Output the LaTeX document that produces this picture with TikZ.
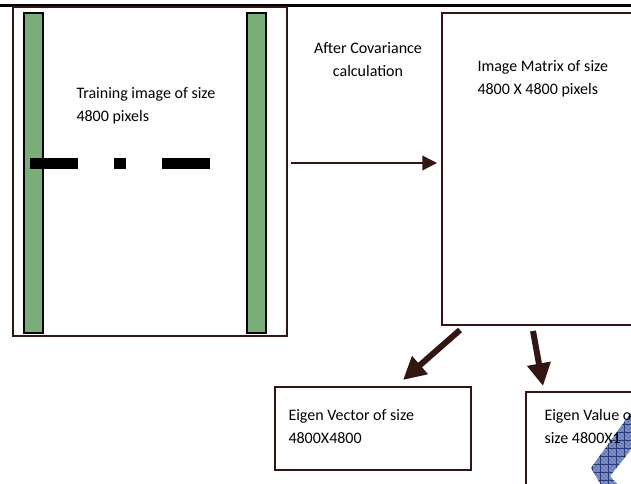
\documentclass[tikz,border=0pt]{standalone}
\usepackage{fontspec}
\setmainfont{Carlito}
\usetikzlibrary{arrows.meta,patterns}
\definecolor{boxbrown}{RGB}{50,22,20}
\definecolor{bargreen}{RGB}{121,174,120}
\definecolor{markblue}{RGB}{96,116,176}
\definecolor{markline}{RGB}{40,58,128}
\tikzset{
	box/.style={draw=boxbrown, line width=1pt},
	bar/.style={draw=black, fill=bargreen, line width=1.3pt},
	pixrow/.style={fill=black},
	txt/.style={inner sep=0pt, font=\fontsize{12}{17.2}\selectfont},
	flow/.style={draw=boxbrown, line width=1pt, -{Triangle[length=11pt,width=11pt]}},
	fatflow/.style={draw=boxbrown, line width=4.5pt, -{Triangle[length=17pt,width=17pt]}}}
\tikzset{every picture/.style={line width=0.75pt}}

\begin{document}
\begin{tikzpicture}[x=0.75pt,y=0.75pt,yscale=-1,xscale=1]
	\useasboundingbox (0,0) rectangle (631,484);
	\clip (0,0) rectangle (631,484);

	%Shape: top rule
	\draw [line width=1.9pt] (0,5.3) -- (631,5.3) ;

	%Shape: Rectangle [training image]
	\draw [box] (13,7) rectangle (287,336) ;
	%Shape: Rectangle [left column]
	\draw [bar] (24,13) rectangle (43,333) ;
	%Shape: Rectangle [right column]
	\draw [bar] (247,13) rectangle (266,333) ;
	%Shape: pixel row
	\fill [pixrow] (30,158) rectangle (78,169) ;
	\fill [pixrow] (114,158) rectangle (126,169) ;
	\fill [pixrow] (162,158) rectangle (210,169) ;

	%Shape: Rectangle [image matrix]
	\draw [box] (442,13) rectangle (645,325) ;
	%Shape: Rectangle [eigen vector]
	\draw [box] (275,387) rectangle (471,470) ;
	%Shape: Rectangle [eigen value]
	\draw [box] (526,392) rectangle (645,495) ;

	%Shape: Polygon [blue mark]
	\begin{scope}
		\clip (640,400) -- (591,468) -- (604,490) -- (622,490) -- (610,476) -- (645,432) -- cycle ;
		\fill [markblue] (585,395) rectangle (650,495) ;
		\fill [pattern=crosshatch, pattern color=markblue!70!white] (585,395) rectangle (650,495) ;
		\draw [markline, line width=0.5pt, step=8] (584,396) grid (648,496) ;
	\end{scope}

	% Text Node
	\draw (76,87) node [txt, anchor=north west, align=left] (traintxt) {Training image of size\\4800 pixels};
	% Text Node
	\draw (368,42) node [txt, anchor=north, align=center] (covtxt) {After Covariance\\calculation};
	% Text Node
	\draw (477,60) node [txt, anchor=north west, align=left] (matrixtxt) {Image Matrix of size\\4800 X 4800 pixels};
	% Text Node
	\draw (288,409) node [txt, anchor=north west, align=left] (vectxt) {Eigen Vector of size\\4800X4800};
	% Text Node
	\draw (544,409) node [txt, anchor=north west, align=left] (valtxt) {Eigen Value of\\size 4800X1};

	%Arrows
	\coordinate (covstart) at (291,163) ;
	\coordinate (covend) at (437,163) ;
	\coordinate (vecstart) at (460,330) ;
	\coordinate (vecend) at (403,380) ;
	\coordinate (valstart) at (533,331) ;
	\coordinate (valend) at (543,386) ;
	\draw [flow] (covstart) -- (covend) ;
	\draw [fatflow] (vecstart) -- (vecend) ;
	\draw [fatflow] (valstart) -- (valend) ;

\end{tikzpicture}
\end{document}
